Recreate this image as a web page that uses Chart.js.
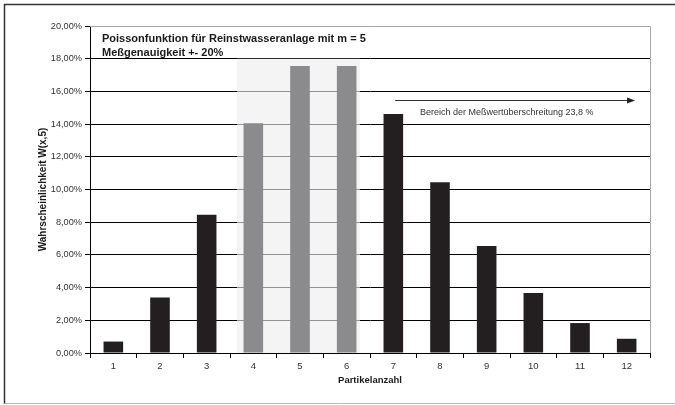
<!DOCTYPE html>
<html><head><meta charset="utf-8">
<script src="https://cdn.jsdelivr.net/npm/chart.js@4.4.0/dist/chart.umd.min.js"></script>
<style>html,body{margin:0;padding:0;background:#fff;}#wrap{width:675px;height:405px;}</style>
</head><body><div id="wrap"><canvas id="c" width="675" height="405"></canvas></div>
<script>
const categories = ['1','2','3','4','5','6','7','8','9','10','11','12'];
const probabilities = [0.0070, 0.0340, 0.0845, 0.1405, 0.1755, 0.1755, 0.1462, 0.1045, 0.0655, 0.0367, 0.0183, 0.0087];
const barColors = ['#231f20','#231f20','#231f20','#8b8b8d','#8b8b8d','#8b8b8d','#231f20','#231f20','#231f20','#231f20','#231f20','#231f20'];
const yTicks = [0,0.02,0.04,0.06,0.08,0.10,0.12,0.14,0.16,0.18,0.20];
const titleLines = ['Poissonfunktion für Reinstwasseranlage mit m = 5','Meßgenauigkeit +- 20%'];
const annotationText = 'Bereich der Meßwertüberschreitung 23,8 %';
const xTitle = 'Partikelanzahl';
const yTitle = 'Wahrscheinlichkeit W(x,5)';
const FONT = "'Liberation Sans', Arial, sans-serif";

const deco = {
  id:'deco',
  beforeDatasetsDraw(chart){
    const {ctx, scales:{x,y}} = chart;
    const cw = x.getPixelForValue(1) - x.getPixelForValue(0);
    const l = x.getPixelForValue(3) - 0.35*cw;
    const r = x.getPixelForValue(5) + 0.285*cw;
    const t = y.getPixelForValue(0.18), b = y.getPixelForValue(0);
    ctx.save();
    ctx.fillStyle = 'rgba(238,238,238,0.62)';
    ctx.fillRect(l, t, r-l, b-t);
    ctx.restore();
  },
  afterDraw(chart){
    const {ctx, chartArea:ca, scales:{x,y}} = chart;
    ctx.save();
    ctx.strokeStyle = '#a8a8a8'; ctx.lineWidth = 1;
    ctx.beginPath();
    ctx.moveTo(ca.left, Math.round(ca.top)+0.5); ctx.lineTo(Math.round(ca.right)+0.5, Math.round(ca.top)+0.5);
    ctx.lineTo(Math.round(ca.right)+0.5, ca.bottom);
    ctx.stroke();
    ctx.strokeStyle = '#333'; ctx.lineWidth = 1.5;
    ctx.beginPath(); ctx.moveTo(4.5, 404); ctx.lineTo(4.5, 4.5); ctx.lineTo(675, 4.5); ctx.stroke();
    ctx.strokeStyle = '#bbb'; ctx.lineWidth = 1;
    ctx.beginPath(); ctx.moveTo(4.5, 403.5); ctx.lineTo(675, 403.5); ctx.stroke();
    ctx.fillStyle = '#1a1a1a';
    ctx.font = 'bold 11px ' + FONT;
    ctx.textAlign = 'left'; ctx.textBaseline = 'alphabetic';
    ctx.fillText(titleLines[0], 102, 42);
    ctx.fillText(titleLines[1], 102, 55.5);
    const ay = y.getPixelForValue(0.1547);
    const ax0 = x.getPixelForValue(6.04), ax1 = x.getPixelForValue(11.18);
    ctx.strokeStyle = '#333'; ctx.lineWidth = 1;
    ctx.beginPath(); ctx.moveTo(ax0, Math.round(ay)+0.5); ctx.lineTo(ax1-6, Math.round(ay)+0.5); ctx.stroke();
    ctx.fillStyle = '#222';
    ctx.beginPath(); ctx.moveTo(ax1, Math.round(ay)+0.5); ctx.lineTo(ax1-8, Math.round(ay)-2.5); ctx.lineTo(ax1-8, Math.round(ay)+3.5); ctx.closePath(); ctx.fill();
    ctx.fillStyle = '#333';
    ctx.font = '9px ' + FONT;
    ctx.textBaseline = 'middle';
    ctx.fillText(annotationText, x.getPixelForValue(6.57), y.getPixelForValue(0.147));
    ctx.fillStyle = '#1a1a1a';
    ctx.font = 'bold 9.5px ' + FONT;
    ctx.textAlign = 'center'; ctx.textBaseline = 'middle';
    ctx.fillText(xTitle, (ca.left+ca.right)/2, 380);
    ctx.font = 'bold 10px ' + FONT;
    ctx.translate(43, (ca.top+ca.bottom)/2);
    ctx.rotate(-Math.PI/2);
    ctx.fillText(yTitle, 0, 0);
    ctx.restore();
  }
};

new Chart(document.getElementById('c'), {
  type:'bar',
  data:{ labels: categories, datasets:[{ data: probabilities, backgroundColor: barColors, borderWidth:0, categoryPercentage:1, barPercentage:0.42 }]},
  options:{
    responsive:false, animation:false, devicePixelRatio:1,
    layout:{ padding:{ left:0, top:26, right:25, bottom:0 } },
    plugins:{ legend:{display:false}, tooltip:{enabled:false}, title:{display:false} },
    scales:{
      x:{
        grid:{ offset:true, drawOnChartArea:false, drawTicks:true, tickLength:5, tickColor:'#000' },
        border:{ color:'#000', width:1 },
        ticks:{ color:'#333', font:{ family:FONT, size:9.5 }, padding:3, maxRotation:0 },
        afterFit(s){ s.height = 52; }
      },
      y:{
        min:0, max:0.20,
        afterBuildTicks(s){ s.ticks = yTicks.map(v=>({value:v})); },
        grid:{ color:(c)=> (c.tick && Math.abs(c.tick.value-0.20)<1e-9) ? 'rgba(0,0,0,0)' : '#000', lineWidth:1, tickLength:5, tickColor:'#000' },
        border:{ color:'#000', width:1 },
        ticks:{ color:'#333', font:{ family:FONT, size:9.2 }, padding:3,
          callback:(v)=> (v*100).toFixed(2).replace('.',',') + '%' },
        afterFit(s){ s.width = 90; }
      }
    }
  },
  plugins:[deco]
});
</script></body></html>
